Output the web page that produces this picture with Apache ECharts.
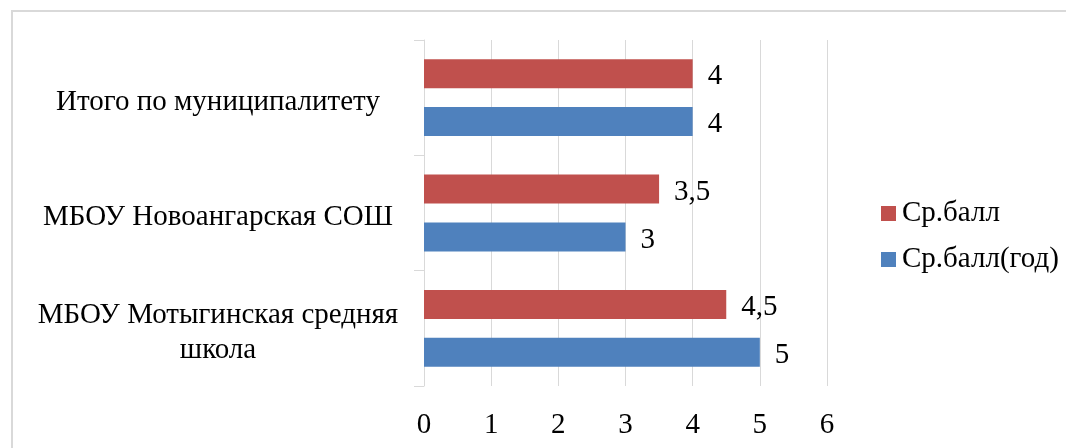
<!DOCTYPE html>
<html>
<head>
<meta charset="utf-8">
<script src="https://cdn.jsdelivr.net/npm/echarts@6/dist/echarts.min.js"></script>
<style>
html,body{margin:0;padding:0;background:#fff;}
#chart{width:1066px;height:448px;}
</style>
</head>
<body>
<div id="chart"></div>
<script>
const categories = ['МБОУ Мотыгинская средняя\nшкола', 'МБОУ Новоангарская СОШ', 'Итого по муниципалитету'];
const seriesNames = ['Ср.балл', 'Ср.балл(год)'];
const avgScore = [4.5, 3.5, 4];
const avgScoreYear = [5, 3, 4];
const xTicks = [0, 1, 2, 3, 4, 5, 6];

const FONT = "'Liberation Serif', 'Times New Roman', serif";
const FS = 29;
const RED = '#C0504D';
const BLUE = '#4F81BD';
const GRID = '#d9d9d9';

const chart = echarts.init(document.getElementById('chart'));
const fmt = p => String(p.value).replace('.', ',');

chart.setOption({
  animation: false,
  backgroundColor: '#fff',
  textStyle: { fontFamily: FONT },
  graphic: [{
    type: 'rect',
    shape: { x: 12, y: 11, width: 1200, height: 600 },
    style: { fill: 'none', stroke: GRID, lineWidth: 2 },
    silent: true
  }],
  legend: {
    orient: 'vertical',
    left: 876,
    top: 194,
    itemWidth: 15,
    itemHeight: 15,
    itemGap: 17,
    icon: 'rect',
    data: seriesNames,
    textStyle: { fontFamily: FONT, fontSize: FS, color: '#000', padding: [0, 0, 0, 1] }
  },
  grid: { left: 424, right: 239, top: 40, bottom: 62, containLabel: false },
  xAxis: {
    type: 'value',
    min: xTicks[0],
    max: xTicks[xTicks.length - 1],
    interval: 1,
    axisLine: { show: false },
    axisTick: { show: false },
    splitLine: { show: true, lineStyle: { color: GRID, width: 1 } },
    axisLabel: { fontFamily: FONT, fontSize: FS, color: '#000', margin: 25 }
  },
  yAxis: {
    type: 'category',
    data: categories,
    axisLine: { show: true, lineStyle: { color: GRID, width: 1 } },
    axisTick: { show: true, length: 10, lineStyle: { color: GRID } },
    axisLabel: {
      interval: 0,
      margin: 16,
      padding: [9, 0, 0, 0],
      formatter: v => v.split('\n').map(l => '{a|' + l + '}').join('\n'),
      rich: {
        a: { width: 380, align: 'center', fontFamily: FONT, fontSize: FS, color: '#000', lineHeight: 35 }
      }
    }
  },
  series: [
    {
      name: seriesNames[0],
      type: 'bar',
      data: avgScore,
      barWidth: 29,
      barGap: '65%',
      itemStyle: { color: RED },
      label: { show: true, position: 'right', distance: 15, offset: [0, 3], formatter: fmt, fontFamily: FONT, fontSize: FS, color: '#000' }
    },
    {
      name: seriesNames[1],
      type: 'bar',
      data: avgScoreYear,
      barWidth: 29,
      barGap: '65%',
      itemStyle: { color: BLUE },
      label: { show: true, position: 'right', distance: 15, offset: [0, 3], formatter: fmt, fontFamily: FONT, fontSize: FS, color: '#000' }
    }
  ]
});
</script>
</body>
</html>
